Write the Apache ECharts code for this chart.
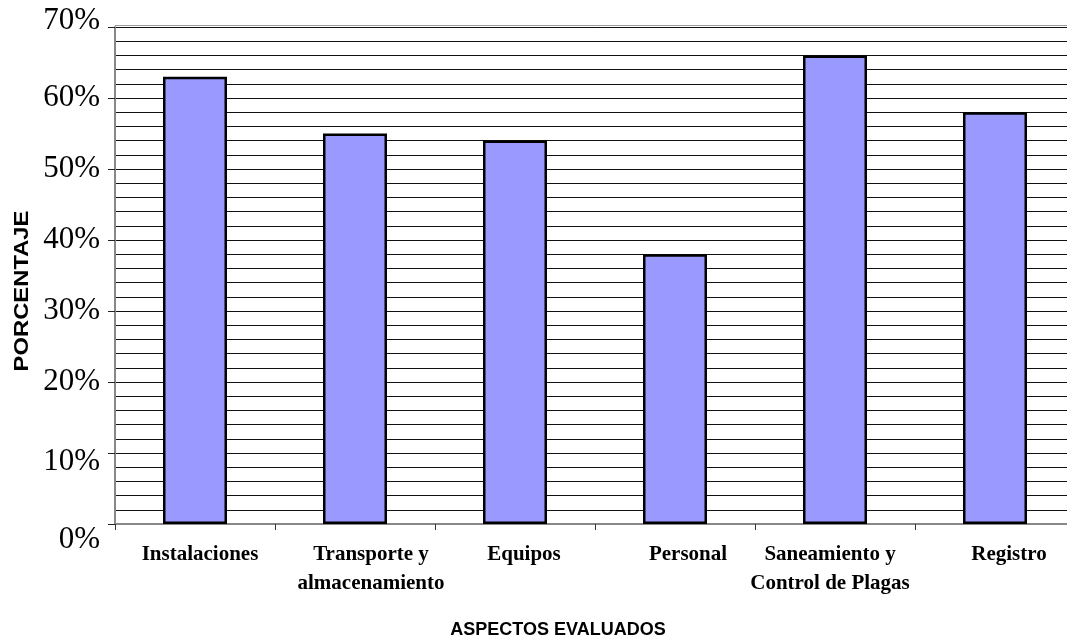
<!DOCTYPE html>
<html>
<head>
<meta charset="utf-8">
<script src="https://cdn.jsdelivr.net/npm/echarts@6/dist/echarts.min.js"></script>
<style>
  html, body { margin: 0; padding: 0; background: #fff; overflow: hidden; }
  #chart { width: 1076px; height: 641px; }
</style>
</head>
<body>
<div id="chart"></div>
<script>
// Aspectos evaluados y porcentaje de cumplimiento
const categories = [
  'Instalaciones',
  'Transporte y\nalmacenamiento',
  'Equipos',
  'Personal',
  'Saneamiento y\nControl de Plagas',
  'Registro'
];
const porcentajes = [63, 55, 54, 38, 66, 58];
const yTicks = [0, 10, 20, 30, 40, 50, 60, 70];

const axisTitleX = 'ASPECTOS EVALUADOS';
const axisTitleY = 'PORCENTAJE';

// horizontal nudges of each category label (px)
const labelShift = [5, 16, 9, 13, -5, 14];

const chart = echarts.init(document.getElementById('chart'), null, { renderer: 'canvas' });

const catRich = {};
labelShift.forEach((s, i) => {
  catRich['c' + i] = {
    fontFamily: 'Liberation Serif',
    fontWeight: 'bold',
    fontSize: 21,
    color: '#000',
    lineHeight: 29,
    padding: s >= 0 ? [0, 0, 0, 2 * s] : [0, -2 * s, 0, 0]
  };
});

const serifLabel = { fontFamily: 'Liberation Serif', fontSize: 31, color: '#000' };

chart.setOption({
  animation: false,
  backgroundColor: '#fff',
  grid: { left: 115, right: 1, top: 27, bottom: 117, containLabel: false },
  xAxis: {
    type: 'category',
    data: categories,
    axisLine: { show: true, lineStyle: { color: '#888', width: 2 } },
    axisTick: { show: true, alignWithLabel: false, length: 6, lineStyle: { color: '#333', width: 1 } },
    axisLabel: {
      interval: 0,
      margin: 16,
      formatter: (v, i) => v.split('\n').map(line => '{c' + i + '|' + line + '}').join('\n'),
      rich: catRich
    },
    splitLine: { show: false }
  },
  yAxis: {
    type: 'value',
    min: yTicks[0],
    max: yTicks[yTicks.length - 1],
    interval: 10,
    axisLine: { show: true, lineStyle: { color: '#888', width: 2 } },
    axisTick: { show: true, inside: false, length: 7, lineStyle: { color: '#222', width: 1 } },
    axisLabel: {
      margin: 15,
      fontFamily: 'Liberation Serif',
      fontSize: 31,
      color: '#000',
      formatter: v => {
        if (v === 0) return '{lo|' + v + '%}';
        if (v === 10) return '{mid|' + v + '%}';
        if (v === 70) return '{hi|' + v + '%}';
        return v + '%';
      },
      rich: {
        lo: Object.assign({ padding: [32, 0, 0, 0] }, serifLabel),
        mid: Object.assign({ padding: [18, 0, 0, 0] }, serifLabel),
        hi: Object.assign({ padding: [0, 0, 12, 0] }, serifLabel)
      }
    },
    splitLine: { show: true, lineStyle: { color: '#111', width: 1 } },
    minorTick: { show: false, splitNumber: 5 },
    minorSplitLine: { show: true, lineStyle: { color: '#111', width: 1 } }
  },
  series: [{
    type: 'bar',
    data: porcentajes,
    barWidth: '40%',
    itemStyle: { color: '#9999FF', borderColor: '#000', borderWidth: 2.5 },
    label: { show: false }
  }],
  graphic: [
    {
      type: 'line',
      shape: { x1: 115, y1: 25.5, x2: 1076, y2: 25.5 },
      style: { stroke: '#999', lineWidth: 1 },
      silent: true
    },
    {
      type: 'text',
      x: 22,
      y: 291,
      rotation: Math.PI / 2,
      scaleX: 1.19,
      style: {
        text: axisTitleY,
        font: 'bold 20px "Liberation Sans"',
        fill: '#000',
        align: 'center',
        verticalAlign: 'middle'
      }
    },
    {
      type: 'text',
      x: 558,
      y: 630,
      style: {
        text: axisTitleX,
        font: 'bold 18px "Liberation Sans"',
        fill: '#000',
        align: 'center',
        verticalAlign: 'middle'
      }
    }
  ]
});
</script>
</body>
</html>
